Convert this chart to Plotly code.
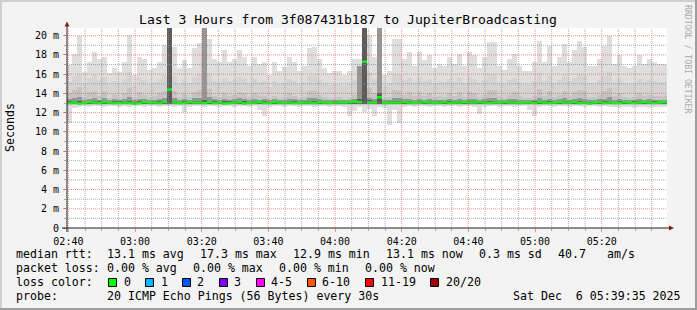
import plotly.graph_objects as go
from datetime import datetime, timedelta

# ---------------- data ----------------
START = "2025-12-06 02:39:35"
END = "2025-12-06 05:39:35"
STEP_SECONDS = 90

MAX_RTT = [17.0, 18.1, 20.0, 16.2, 17.3, 18.3, 17.6, 17.8, 16.1, 16.6, 16.2, 17.3, 20.1, 15.9, 17.8, 17.6, 16.4, 16.6, 17.3, 19.0,
           21.0, 18.8, 16.6, 17.5, 16.6, 18.7, 19.2, 21.0, 19.7, 17.6, 17.3, 18.5, 17.3, 17.6, 18.5, 17.8, 16.9, 17.8, 17.1, 17.3,
           15.9, 17.3, 16.3, 16.7, 17.8, 17.3, 16.3, 16.9, 18.7, 18.8, 17.6, 16.6, 16.1, 16.3, 16.3, 15.9, 16.3, 17.6, 17.6, 21.0,
           20.1, 17.8, 21.0, 15.9, 16.3, 19.7, 19.7, 17.6, 18.3, 16.9, 18.3, 17.5, 18.0, 16.6, 17.1, 16.9, 17.8, 17.1, 18.1, 16.9,
           18.3, 18.0, 16.6, 17.8, 19.3, 19.3, 16.9, 16.4, 17.6, 18.1, 16.9, 16.3, 16.3, 17.3, 19.4, 17.3, 18.9, 16.9, 17.8, 19.1,
           17.3, 18.5, 19.4, 18.8, 16.8, 16.8, 17.6, 18.9, 20.0, 17.1, 18.0, 16.9, 16.6, 16.8, 18.0, 17.1, 17.6, 17.3, 17.1, 17.1]

MIN_RTT = [10.9, 12.5, 12.6, 12.7, 12.6, 12.7, 12.7, 12.6, 12.7, 12.7, 12.6, 12.7, 12.6, 12.7, 12.7, 12.6, 12.7, 12.7, 12.6, 12.7,
           12.7, 12.6, 12.7, 12.1, 12.6, 12.7, 12.7, 12.6, 12.7, 12.7, 12.6, 12.7, 12.7, 12.6, 12.7, 12.7, 12.6, 12.7, 12.3, 11.6,
           12.6, 12.7, 12.7, 12.6, 12.7, 12.7, 12.6, 12.7, 12.7, 12.6, 12.7, 12.7, 12.6, 12.7, 12.7, 12.6, 11.6, 12.2, 12.6, 12.1,
           12.4, 11.7, 12.6, 12.5, 10.7, 12.3, 10.9, 12.6, 12.7, 12.6, 12.7, 12.7, 12.6, 12.7, 12.7, 12.6, 12.7, 12.7, 12.6, 12.7,
           12.7, 12.6, 11.9, 12.6, 12.7, 12.7, 12.6, 12.7, 12.7, 12.6, 12.7, 12.7, 12.3, 11.6, 12.6, 12.7, 12.7, 12.6, 12.7, 12.7,
           12.6, 12.7, 12.7, 12.6, 12.7, 12.7, 12.6, 12.7, 12.6, 12.6, 12.5, 12.6, 12.6, 12.5, 12.6, 12.6, 12.5, 12.6, 12.6, 12.6]

P2_HI = [15.2, 15.8, 16.0, 15.0, 15.6, 15.9, 15.4, 15.7, 14.9, 15.3, 15.1, 15.5, 16.2, 14.8, 15.6, 15.4, 15.0, 15.2, 15.5, 15.9,
         21.0, 15.8, 15.0, 15.4, 15.1, 15.7, 16.0, 21.0, 16.1, 15.3, 15.2, 15.6, 15.3, 15.4, 15.7, 15.5, 15.1, 15.5, 15.2, 15.3,
         14.7, 15.3, 15.0, 15.1, 15.5, 15.3, 15.0, 15.2, 15.8, 15.9, 15.4, 15.1, 14.9, 15.0, 15.0, 14.8, 15.0, 15.4, 16.8, 21.0,
         16.2, 15.5, 21.0, 14.8, 15.0, 16.0, 15.9, 15.4, 15.6, 15.2, 15.7, 15.3, 15.5, 15.1, 15.3, 15.2, 15.5, 15.2, 15.6, 15.1,
         15.7, 15.5, 15.1, 15.4, 16.0, 16.0, 15.2, 15.0, 15.4, 15.6, 15.2, 15.0, 15.0, 15.3, 16.1, 15.3, 15.8, 15.1, 15.4, 15.9,
         15.3, 15.6, 16.0, 15.8, 15.1, 15.1, 15.4, 15.8, 16.2, 15.2, 15.5, 15.1, 15.0, 15.1, 15.5, 15.2, 15.4, 15.3, 15.2, 15.2]

P3_HI = [14.0, 14.4, 14.7, 13.6, 14.1, 14.3, 13.7, 14.2, 13.5, 13.9, 13.6, 14.0, 14.6, 13.5, 14.1, 13.8, 13.6, 13.7, 14.0, 14.3,
         21.0, 14.2, 13.6, 13.9, 13.6, 14.1, 14.4, 21.0, 14.5, 13.7, 13.6, 14.0, 13.7, 13.8, 14.1, 14.0, 13.6, 14.0, 13.7, 13.7,
         13.5, 13.7, 13.5, 13.6, 14.0, 13.7, 13.5, 13.6, 14.2, 14.3, 13.8, 13.6, 13.5, 13.5, 13.6, 13.4, 13.5, 13.8, 16.8, 21.0,
         14.6, 14.0, 21.0, 13.5, 13.6, 14.4, 14.3, 13.8, 14.1, 13.7, 14.1, 13.7, 14.0, 13.6, 13.7, 13.6, 14.0, 13.7, 14.1, 13.6,
         14.1, 14.0, 13.6, 13.8, 14.4, 14.4, 13.7, 13.5, 13.8, 14.1, 13.7, 13.5, 13.5, 13.7, 14.5, 13.7, 14.2, 13.6, 13.8, 14.3,
         13.7, 14.1, 14.4, 14.2, 13.6, 13.6, 13.8, 14.2, 14.6, 13.7, 14.0, 13.6, 13.5, 13.6, 14.0, 13.7, 13.8, 13.7, 13.7, 13.7]

P4_HI = [13.4, 13.5, 13.6, 13.35, 13.4, 13.5, 13.35, 13.5, 13.3, 13.4, 13.35, 13.4, 13.6, 13.3, 13.4, 13.4, 13.35, 13.35, 13.4, 13.5,
         21.0, 13.5, 13.35, 13.4, 13.35, 13.5, 13.5, 21.0, 13.6, 13.4, 13.35, 13.4, 13.35, 13.4, 13.5, 13.4, 13.35, 13.4, 13.35, 13.4,
         13.3, 13.4, 13.35, 13.35, 13.4, 13.4, 13.3, 13.35, 13.5, 13.5, 13.4, 13.35, 13.3, 13.35, 13.35, 13.3, 13.35, 13.4, 16.8, 21.0,
         13.5, 13.4, 21.0, 13.35, 13.35, 13.5, 13.5, 13.4, 13.4, 13.35, 13.4, 13.35, 13.4, 13.3, 13.35, 13.35, 13.4, 13.35, 13.4, 13.35,
         13.4, 13.4, 13.35, 13.4, 13.5, 13.5, 13.35, 13.3, 13.4, 13.4, 13.35, 13.3, 13.3, 13.35, 13.5, 13.35, 13.4, 13.35, 13.4, 13.5,
         13.35, 13.4, 13.5, 13.4, 13.3, 13.35, 13.4, 13.4, 13.6, 13.35, 13.4, 13.35, 13.3, 13.35, 13.4, 13.35, 13.4, 13.35, 13.35, 13.35]

P5_HI = [13.2, 13.25, 13.2, 13.15, 13.2, 13.2, 13.2, 13.25, 13.15, 13.2, 13.2, 13.2, 13.25, 13.15, 13.2, 13.2, 13.15, 13.2, 13.2, 13.25,
         21.0, 13.2, 13.15, 13.2, 13.2, 13.25, 13.2, 13.3, 13.25, 13.2, 13.15, 13.2, 13.2, 13.2, 13.25, 13.2, 13.15, 13.2, 13.2, 13.2,
         13.15, 13.2, 13.2, 13.15, 13.2, 13.2, 13.15, 13.2, 13.25, 13.25, 13.2, 13.15, 13.15, 13.2, 13.15, 13.15, 13.2, 13.2, 13.4, 21.0,
         13.3, 13.2, 14.0, 13.15, 13.2, 13.25, 13.25, 13.2, 13.2, 13.15, 13.2, 13.2, 13.2, 13.15, 13.2, 13.15, 13.2, 13.2, 13.2, 13.15,
         13.2, 13.2, 13.15, 13.2, 13.25, 13.25, 13.15, 13.15, 13.2, 13.2, 13.15, 13.15, 13.15, 13.2, 13.25, 13.2, 13.2, 13.15, 13.2, 13.25,
         13.2, 13.2, 13.25, 13.2, 13.15, 13.15, 13.2, 13.2, 13.25, 13.15, 13.2, 13.15, 13.15, 13.2, 13.2, 13.15, 13.2, 13.2, 13.15, 13.15]

P2_LO = 12.75
P3_LO = 12.8
P4_LO = 12.85
P5_LO = 12.9

MEDIAN = [13.0, 13.05, 12.95, 13.0, 13.1, 13.05, 13.0, 13.1, 13.05, 13.0, 13.0, 13.05, 13.0, 12.95, 13.0, 13.1, 13.05, 13.05, 13.0, 13.1,
          14.4, 13.05, 13.0, 13.0, 13.1, 13.05, 13.05, 13.0, 13.1, 13.0, 13.05, 12.95, 13.0, 13.05, 13.1, 12.95, 13.0, 13.05, 13.1, 13.0,
          13.0, 13.1, 13.05, 13.0, 13.05, 13.0, 13.0, 13.05, 13.05, 13.0, 13.1, 13.05, 13.0, 13.05, 13.05, 13.05, 13.1, 13.15, 13.1, 17.3,
          13.05, 13.05, 13.6, 13.0, 13.05, 13.05, 13.05, 13.1, 13.05, 13.0, 13.05, 13.1, 13.05, 13.0, 13.05, 13.1, 13.0, 13.05, 13.05, 13.1,
          13.05, 13.05, 13.1, 13.05, 13.0, 13.05, 13.05, 13.1, 13.05, 13.05, 13.0, 13.05, 13.05, 13.0, 13.1, 13.05, 13.0, 13.05, 13.1, 13.05,
          13.05, 13.1, 13.0, 13.05, 12.95, 13.05, 13.1, 13.0, 13.05, 13.0, 13.0, 13.1, 13.05, 13.0, 13.05, 13.1, 13.05, 13.0, 13.05, 13.1]

Y_TICKS = [0, 2, 4, 6, 8, 10, 12, 14, 16, 18, 20]
Y_TICK_LABELS = ["0", "2 m", "4 m", "6 m", "8 m", "10 m", "12 m", "14 m", "16 m", "18 m", "20 m"]
Y_MAX = 20.8

LOSS_LABELS = ["0", "1", "2", "3", "4-5", "6-10", "11-19", "20/20"]
LOSS_COLORS = ["#00ff00", "#00b8ff", "#0059ff", "#7e00ff", "#ff00ff", "#ff5500", "#ff0000", "#a10000"]

TITLE = "Last 3 Hours from 3f087431b187 to JupiterBroadcasting"
STATS_RTT = [("median rtt:", 16), ("13.1 ms avg", 107), ("17.3 ms max", 200), ("12.9 ms min", 293),
             ("13.1 ms now", 386), ("0.3 ms sd", 479), ("40.7", 558), ("am/s", 607)]
STATS_LOSS = [("packet loss:", 16), ("0.00 % avg", 107), ("0.00 % max", 193), ("0.00 % min", 279), ("0.00 % now", 365)]
PROBE = [("probe:", 16), ("20 ICMP Echo Pings (56 Bytes) every 30s", 107), ("Sat Dec  6 05:39:35 2025", 513)]

# ---------------- layout helpers ----------------
W, H = 697, 310
L, R, T, B = 67, 30, 28, 82
PW, PH = W - L - R, H - T - B


def px(x):
    return (x - L) / PW


def py(y):
    return (T + PH - y) / PH


start = datetime.fromisoformat(START)
end = datetime.fromisoformat(END)
n = len(MAX_RTT)
bin_start = [start + timedelta(seconds=STEP_SECONDS * i) for i in range(n)]
bin_mid = [s + timedelta(seconds=STEP_SECONDS / 2) for s in bin_start]
bin_end = [s + timedelta(seconds=STEP_SECONDS) for s in bin_start]
width_ms = STEP_SECONDS * 1000

FONT = "DejaVu Sans Mono"
fig = go.Figure()

layers = [
    (MIN_RTT, MAX_RTT, "#dedede"),
    ([P2_LO] * n, P2_HI, "#d3d3d3"),
    ([P3_LO] * n, P3_HI, "#c4c4c4"),
    ([P4_LO] * n, P4_HI, "#969696"),
    ([P5_LO] * n, P5_HI, "#5c5c5c"),
]
for lo, hi, col in layers:
    fig.add_trace(go.Bar(
        x=bin_mid, y=[h - l for l, h in zip(lo, hi)], base=lo, width=width_ms,
        marker=dict(color=col, line=dict(width=0)), hoverinfo="skip", showlegend=False))

mx, my = [], []
for s, e, m in zip(bin_start, bin_end, MEDIAN):
    mx += [s, e, None]
    my += [m, m, None]
fig.add_trace(go.Scatter(x=mx, y=my, mode="lines", line=dict(color=LOSS_COLORS[0], width=2.5),
                         hoverinfo="skip", showlegend=False))

shapes = []
GRID = "rgba(143,143,143,0.75)"
MGRID = "rgba(222,79,79,0.6)"
# vertical grid every 5 min, major every 20 min
t = datetime(2025, 12, 6, 2, 40)
while t < end:
    major = (t.minute % 20 == 0)
    shapes.append(dict(type="line", xref="x", yref="paper", x0=t, x1=t, y0=0, y1=1, layer="above",
                       line=dict(color=MGRID if major else GRID, width=1, dash="1px,1px")))
    t += timedelta(minutes=5)
for v in range(1, 21):
    major = (v % 2 == 0)
    shapes.append(dict(type="line", xref="paper", yref="y", x0=0, x1=1, y0=v, y1=v, layer="above",
                       line=dict(color=MGRID if major else GRID, width=1, dash="1px,1px")))

# axes lines + arrows
AX = "#1f1f1f"
ARROW = "#802020"
shapes.append(dict(type="line", xref="paper", yref="paper", x0=px(62), x1=px(670), y0=py(228), y1=py(228),
                   line=dict(color=AX, width=1), layer="above"))
shapes.append(dict(type="line", xref="paper", yref="paper", x0=px(67), x1=px(67), y0=py(232), y1=py(24),
                   line=dict(color=AX, width=1), layer="above"))
shapes.append(dict(type="path", xref="paper", yref="paper", layer="above",
                   path=f"M {px(64.5)},{py(26.5)} L {px(69.5)},{py(26.5)} L {px(67)},{py(21.5)} Z",
                   fillcolor=ARROW, line=dict(width=0)))
shapes.append(dict(type="path", xref="paper", yref="paper", layer="above",
                   path=f"M {px(669)},{py(225.5)} L {px(669)},{py(230.5)} L {px(674)},{py(228)} Z",
                   fillcolor=ARROW, line=dict(width=0)))

# frame shading
shapes.append(dict(type="rect", xref="paper", yref="paper", x0=px(0), x1=px(697), y0=py(0), y1=py(2),
                   fillcolor="#cfcfcf", line=dict(width=0), layer="above"))
shapes.append(dict(type="rect", xref="paper", yref="paper", x0=px(0), x1=px(2), y0=py(0), y1=py(310),
                   fillcolor="#cfcfcf", line=dict(width=0), layer="above"))
shapes.append(dict(type="rect", xref="paper", yref="paper", x0=px(0), x1=px(697), y0=py(308), y1=py(310),
                   fillcolor="#9e9e9e", line=dict(width=0), layer="above"))
shapes.append(dict(type="rect", xref="paper", yref="paper", x0=px(695), x1=px(697), y0=py(0), y1=py(310),
                   fillcolor="#9e9e9e", line=dict(width=0), layer="above"))

# loss colour boxes
box_x = [108.5, 145.5, 182.5, 219.5, 256.5, 307.5, 365.5, 430.5]
label_x = [124, 160.7, 197.3, 234, 270.7, 322, 380.7, 446]
for bx, col in zip(box_x, LOSS_COLORS):
    shapes.append(dict(type="rect", xref="paper", yref="paper", x0=px(bx), x1=px(bx + 8),
                       y0=py(278.5), y1=py(286.5), fillcolor=col, line=dict(color="#000000", width=1),
                       layer="above"))

ann = []


def text(s, x, y, size=11.6, anchor="left", color="#000000", angle=0):
    ann.append(dict(text=s.replace(" ", "&nbsp;"), x=px(x), y=py(y), xref="paper", yref="paper",
                    xanchor=anchor, yanchor="middle", showarrow=False, textangle=angle,
                    font=dict(family=FONT, size=size, color=color), borderpad=0, borderwidth=0))


text(TITLE, 348, 19, size=13.1, anchor="center")
for s, x in STATS_RTT:
    text(s, x, 254.3)
for s, x in STATS_LOSS:
    text(s, x, 268.3)
text("loss color:", 16, 282.3)
for lab, x in zip(LOSS_LABELS, label_x):
    text(lab, x, 282.3)
for s, x in PROBE:
    text(s, x, 296.3)
text("Seconds", 10, 128, size=11.6, anchor="center", angle=-90)
text("RRDTOOL / TOBI OETIKER", 688, 59, size=8.2, anchor="center", color="#aaaaaa", angle=90)

fig.update_layout(
    width=W, height=H, autosize=False,
    margin=dict(l=L, r=R, t=T, b=B, pad=0),
    paper_bgcolor="#f3f3f3", plot_bgcolor="#ffffff",
    barmode="overlay", bargap=0,
    shapes=shapes, annotations=ann, showlegend=False,
    xaxis=dict(type="date", range=[start, end], showgrid=False, zeroline=False, showline=False,
               tickformat="%H:%M", tick0="2025-12-06 02:40:00", dtick=20 * 60 * 1000,
               ticks="outside", ticklen=3, tickcolor=MGRID, tickwidth=1,
               tickfont=dict(family=FONT, size=10, color="#000000"), ticklabelstandoff=1,
               minor=dict(dtick=5 * 60 * 1000, tick0="2025-12-06 02:40:00", ticks="outside",
                          ticklen=2, tickcolor=GRID, showgrid=False),
               fixedrange=True),
    yaxis=dict(range=[0, Y_MAX], showgrid=False, zeroline=False, showline=False,
               tickvals=Y_TICKS, ticktext=Y_TICK_LABELS,
               ticks="outside", ticklen=3, tickcolor=MGRID, tickwidth=1,
               tickfont=dict(family=FONT, size=10, color="#000000"), ticklabelstandoff=2,
               minor=dict(dtick=1, ticks="outside", ticklen=2, tickcolor=GRID, showgrid=False),
               fixedrange=True),
)

fig.write_html("out.html")
